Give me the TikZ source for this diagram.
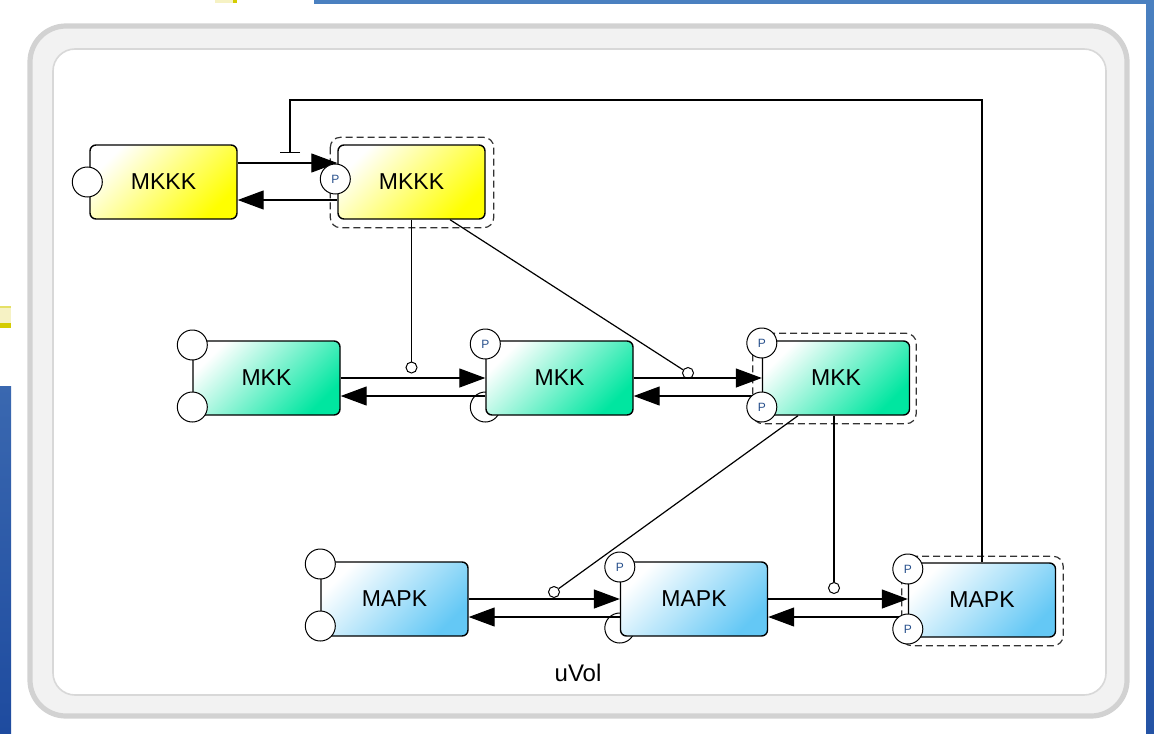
\documentclass[tikz,border=0pt]{standalone}
\usepackage{fontspec}
\setmainfont{Liberation Sans}
\usetikzlibrary{arrows.meta,calc}
\definecolor{outerln}{RGB}{210,210,210}
\definecolor{outerfl}{RGB}{242,242,242}
\definecolor{innerln}{RGB}{216,216,216}
\definecolor{ygreen}{RGB}{0,230,160}
\definecolor{yblue}{RGB}{100,200,245}
\definecolor{pcol}{RGB}{40,80,140}
\definecolor{barA}{RGB}{74,128,192}
\definecolor{barB}{RGB}{36,83,165}
\definecolor{barC}{RGB}{58,104,176}
\definecolor{barD}{RGB}{30,75,159}
\definecolor{paley}{RGB}{246,242,196}
\definecolor{darky}{RGB}{212,204,0}
\pgfdeclarelayer{bg}
\pgfsetlayers{bg,main}
\tikzset{
  box/.style={draw=black, line width=0.7pt, rounded corners=3pt,
    minimum width=73.5pt, minimum height=37pt, inner sep=0pt,
    font=\fontsize{11.5}{13}\selectfont},
  ybox/.style={box, top color=white, bottom color=yellow, shading angle=45},
  gbox/.style={box, top color=white, bottom color=ygreen, shading angle=45},
  bbox/.style={box, top color=white, bottom color=yblue, shading angle=45},
  port/.style={circle, draw=black, line width=0.5pt, fill=white,
    minimum size=15pt, inner sep=0pt, font=\fontsize{6}{7}\selectfont, text=pcol},
  modc/.style={circle, draw=black, line width=0.5pt, fill=white,
    minimum size=5.5pt, inner sep=0pt},
  conn/.style={line width=0.6pt, draw=black},
  arr/.style={conn, -{Triangle[length=13pt,width=9.5pt]}},
  dframe/.style={draw=black!80, line width=0.6pt, dash pattern=on 3.5pt off 2pt, rounded corners=5pt}
}
\begin{document}
\begin{tikzpicture}[x=0.5pt,y=-0.5pt]
\useasboundingbox (0,0) rectangle (1154,733);

% boxes
\node[ybox] (kkk1) at (163.5,182) {MKKK};
\node[ybox] (kkk2) at (411.5,182) {MKKK};
\node[gbox] (kk1) at (266.5,378) {MKK};
\node[gbox] (kk2) at (559.5,378) {MKK};
\node[gbox] (kk3) at (836,378) {MKK};
\node[bbox] (k1) at (394.5,599) {MAPK};
\node[bbox] (k2) at (694,599) {MAPK};
\node[bbox] (k3) at (982,600) {MAPK};

\begin{pgfonlayer}{bg}
  % page decorations
  \fill[barA] (314,0) rectangle (1154,4);
  \shade[top color=barA, bottom color=barB] (1146,0) rectangle (1154,733);
  \shade[top color=barC, bottom color=barD] (0,386) rectangle (11,733);
  \fill[paley] (215,0) rectangle (237,3);
  \fill[darky] (233,0) rectangle (237,3);
  \fill[paley] (0,306) rectangle (11,323);
  \fill[darky!60] (0,306) rectangle (11,308);
  \fill[darky] (0,323) rectangle (11,328);
  % compartment
  \draw[draw=outerln, fill=outerfl, line width=2.6pt, rounded corners=18pt] (30,26) rectangle (1127,716);
  \draw[draw=innerln, fill=white, line width=0.8pt, rounded corners=11pt] (53,49) rectangle (1106,695);
  % dashed frames
  \draw[dframe] ($(kkk2.north west)+(-7,-7)$) rectangle ($(kkk2.south east)+(8,8)$);
  \draw[dframe] ($(kk3.north west)+(-9,-7)$) rectangle ($(kk3.south east)+(6,8)$);
  \draw[dframe] ($(k3.north west)+(-6,-6)$) rectangle ($(k3.south east)+(7,8)$);
  % circles partly hidden behind boxes
  \node[port] (c4) at ($(kk2.west)+(0,29)$) {};
  \node[port] (c7) at ($(k2.west)+(0,29)$) {};
\end{pgfonlayer}

% modulator circles
\node[modc] (m1) at (411.5,367.5) {};
\node[modc] (m2) at (688,373) {};
\node[modc] (m3) at (554,592) {};
\node[modc] (m4) at (834,588) {};

% reaction arrows
\draw[arr] ($(kkk1.east)+(0,-19)$) -- ($(kkk2.west)+(0,-19)$);
\draw[arr] ($(kkk2.west)+(0,18)$) -- ($(kkk1.east)+(0,18)$);
\draw[arr] (kk1.east) -- (kk2.west);
\draw[arr] ($(kk2.west)+(0,18)$) -- ($(kk1.east)+(0,18)$);
\draw[arr] (kk2.east) -- (kk3.west);
\draw[arr] ($(kk3.west)+(0,18)$) -- ($(kk2.east)+(0,18)$);
\draw[arr] (k1.east) -- (k2.west);
\draw[arr] ($(k2.west)+(0,18)$) -- ($(k1.east)+(0,18)$);
\draw[arr] (k2.east) -- (k2.east -| k3.west);
\draw[arr] ($(k2.east -| k3.west)+(0,18)$) -- ($(k2.east)+(0,18)$);

% modifier lines
\draw[conn] (kkk2.south) -- (m1);
\draw[conn] ($(kkk2.south)+(38.5,0)$) -- (m2);
\draw[conn] ($(kk3.south)+(-38,0)$) -- (m3);
\draw[conn] (m4 |- kk3.south) -- (m4);

% inhibition feedback
\coordinate (tcorner) at (290,100);
\coordinate (tend) at (290,153);
\draw[conn, -{Bar[width=10pt]}] (k3.north) |- (tcorner) -- (tend);

% ports
\node[port] (c1) at ($(kkk1.west)+(-2,0)$) {};
\node[port] (p1) at ($(kkk2.west)+(-2,-3)$) {P};
\node[port] (c2) at ($(kk1.west)+(0,-33)$) {};
\node[port] (c3) at ($(kk1.west)+(0,29)$) {};
\node[port] (p2) at ($(kk2.west)+(0,-34)$) {P};
\node[port] (p3) at ($(kk3.west)+(0,-35)$) {P};
\node[port] (p4) at ($(kk3.west)+(0,29)$) {P};
\node[port] (c5) at ($(k1.west)+(0,-35)$) {};
\node[port] (c6) at ($(k1.west)+(0,27)$) {};
\node[port] (p5) at ($(k2.west)+(0,-32)$) {P};
\node[port] (p6) at ($(k3.west)+(0,-31)$) {P};
\node[port] (p7) at ($(k3.west)+(0,29)$) {P};

% compartment label
\node[font=\fontsize{12}{14}\selectfont] (vol) at (578,673) {uVol};
\end{tikzpicture}
\end{document}
